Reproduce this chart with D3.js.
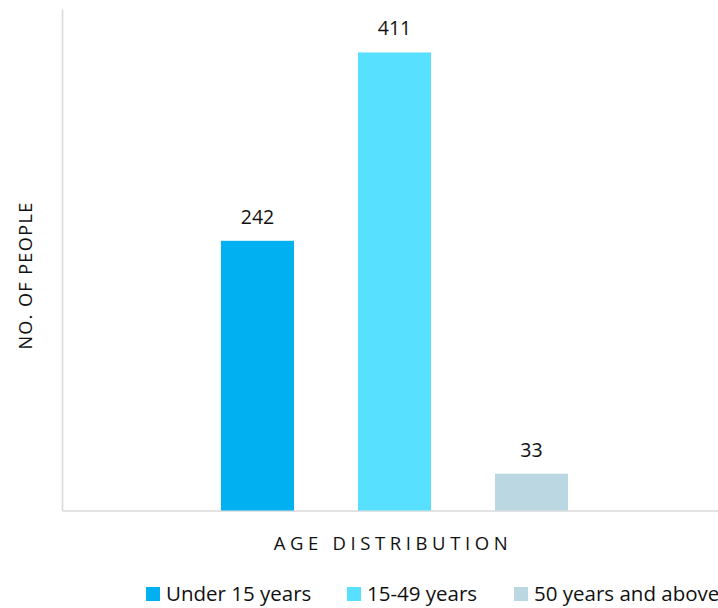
<!DOCTYPE html>
<html>
<head>
<meta charset="utf-8">
<script src="https://cdn.jsdelivr.net/npm/d3@7"></script>
<style>
  html, body { margin: 0; padding: 0; background: #fff; overflow: hidden; }
  svg { display: block; font-family: "Open Sans", sans-serif; }
</style>
</head>
<body>
<svg id="chart" width="718" height="608"></svg>
<script>
// Age groups, counts and bar colours
const groups = ["Under 15 years", "15-49 years", "50 years and above"];
const counts = [242, 411, 33];
const colors = ["#00B0F0", "#57E0FF", "#BAD7E2"];
const yDomain = [0, 450];

const svg = d3.select("#chart");

const plot = { left: 62, right: 727, top: 9, bottom: 510.5 };

const x = d3.scaleBand()
  .domain(groups)
  .range([plot.left, plot.right])
  .paddingInner(0.467)
  .paddingOuter(1.16);

const y = d3.scaleLinear()
  .domain(yDomain)
  .range([plot.bottom, plot.top]);

// Axis lines (no ticks)
const axisColor = "#d9d9d9";
const yAxis = svg.append("g")
  .attr("transform", `translate(${plot.left},0)`)
  .call(d3.axisLeft(y).tickValues([]).tickSizeOuter(0));
yAxis.select(".domain").attr("stroke", axisColor).attr("stroke-width", 1.6);

const xAxis = svg.append("g")
  .attr("transform", `translate(0,${plot.bottom})`)
  .call(d3.axisBottom(x).tickValues([]).tickSizeOuter(0));
xAxis.select(".domain").attr("stroke", axisColor).attr("stroke-width", 1.6);

// Bars
const data = groups.map((g, i) => ({ group: g, value: counts[i], color: colors[i] }));

svg.append("g").selectAll("rect")
  .data(data)
  .join("rect")
  .attr("x", d => x(d.group))
  .attr("width", x.bandwidth())
  .attr("y", d => y(d.value))
  .attr("height", d => y(0) - y(d.value))
  .attr("fill", d => d.color);

const textColor = "#111";

// Value labels
svg.append("g").selectAll("text")
  .data(data)
  .join("text")
  .attr("x", d => x(d.group) + x.bandwidth() / 2)
  .attr("y", d => y(d.value) - 17)
  .attr("text-anchor", "middle")
  .attr("font-size", 19.5)
  .attr("fill", textColor)
  .text(d => d.value);

// Axis titles
svg.append("text")
  .attr("transform", "translate(32,275.5) rotate(-90)")
  .attr("text-anchor", "middle")
  .attr("font-size", 18)
  .attr("letter-spacing", 1.4)
  .attr("fill", textColor)
  .text("NO. OF PEOPLE");

svg.append("text")
  .attr("x", 393)
  .attr("y", 550)
  .attr("text-anchor", "middle")
  .attr("font-size", 18.5)
  .attr("letter-spacing", 4.6)
  .attr("fill", textColor)
  .text("AGE DISTRIBUTION");

// Legend
const legendX = [146, 347, 514];
const legend = svg.append("g").selectAll("g")
  .data(data)
  .join("g")
  .attr("transform", (d, i) => `translate(${legendX[i]},587)`);

legend.append("rect")
  .attr("width", 14)
  .attr("height", 14)
  .attr("fill", d => d.color);

legend.append("text")
  .attr("x", 20)
  .attr("y", 13.5)
  .attr("font-size", 20.5)
  .attr("fill", textColor)
  .text(d => d.group);
</script>
</body>
</html>
